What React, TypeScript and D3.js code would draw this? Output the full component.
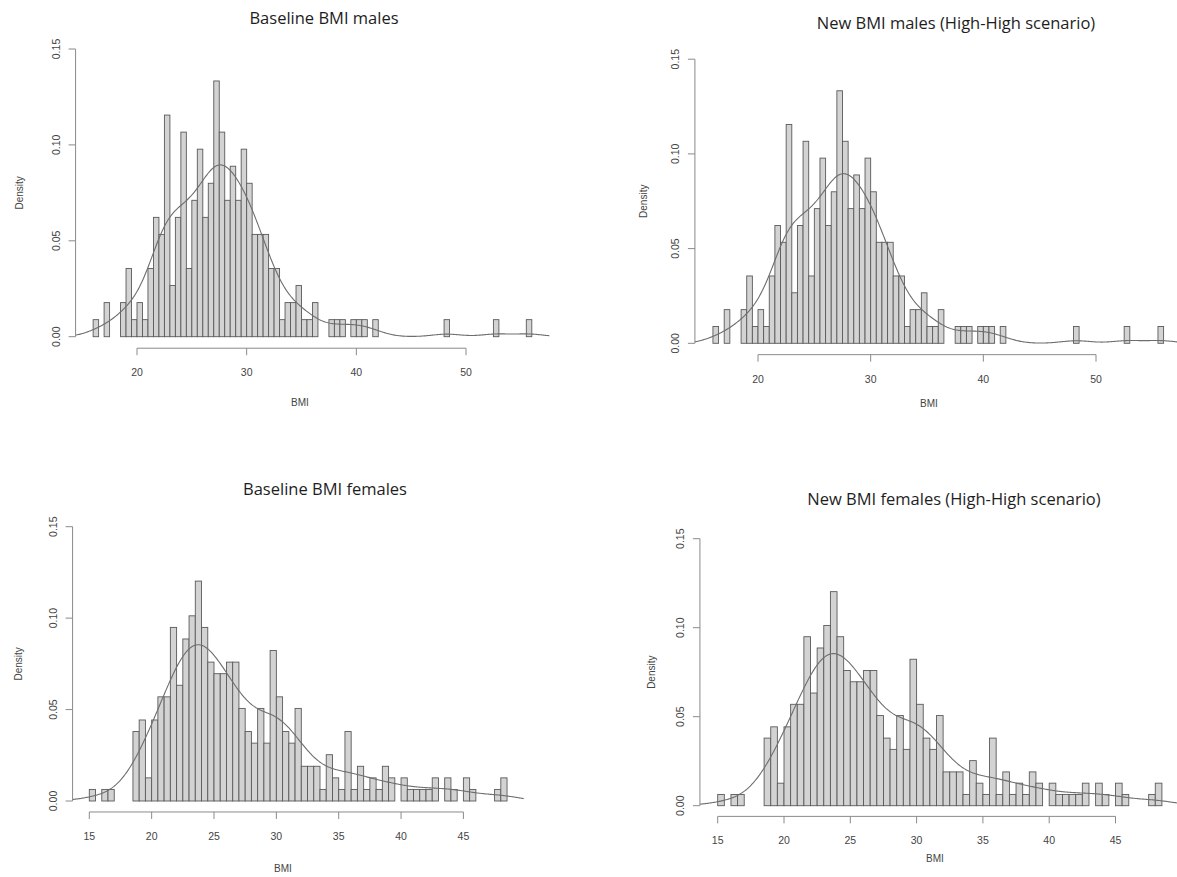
import React from 'react';
import * as d3 from 'd3';

// ---- Data (bin lower edges, bin width 0.5, and counts) ----
const BIN_WIDTH = 0.5;

const maleBinStarts = [16.0, 17.0, 18.5, 19.0, 19.5, 20.0, 20.5, 21.0, 21.5, 22.0, 22.5, 23.0, 23.5, 24.0, 24.5, 25.0, 25.5, 26.0, 26.5, 27.0, 27.5, 28.0, 28.5, 29.0, 29.5, 30.0, 30.5, 31.0, 31.5, 32.0, 32.5, 33.0, 33.5, 34.0, 34.5, 35.0, 35.5, 36.0, 37.5, 38.0, 38.5, 39.5, 40.0, 40.5, 41.5, 48.0, 52.5, 55.5];
const maleCounts = [1, 2, 2, 4, 1, 2, 1, 4, 7, 6, 13, 3, 7, 12, 4, 8, 11, 7, 9, 15, 12, 8, 10, 8, 11, 9, 6, 6, 6, 4, 4, 1, 2, 2, 3, 1, 1, 2, 1, 1, 1, 1, 1, 1, 1, 1, 1, 1];

const newMaleBinStarts = [16.0, 17.0, 18.5, 19.0, 19.5, 20.0, 20.5, 21.0, 21.5, 22.0, 22.5, 23.0, 23.5, 24.0, 24.5, 25.0, 25.5, 26.0, 26.5, 27.0, 27.5, 28.0, 28.5, 29.0, 29.5, 30.0, 30.5, 31.0, 31.5, 32.0, 32.5, 33.0, 33.5, 34.0, 34.5, 35.0, 35.5, 36.0, 37.5, 38.0, 38.5, 39.5, 40.0, 40.5, 41.5, 48.0, 52.5, 55.5];
const newMaleCounts = [1, 2, 2, 4, 1, 2, 1, 4, 7, 6, 13, 3, 7, 12, 4, 8, 11, 7, 9, 15, 12, 8, 10, 8, 11, 9, 6, 6, 6, 4, 4, 1, 2, 2, 3, 1, 1, 2, 1, 1, 1, 1, 1, 1, 1, 1, 1, 1];

const femaleBinStarts = [15.0, 16.0, 16.5, 18.5, 19.0, 19.5, 20.0, 20.5, 21.0, 21.5, 22.0, 22.5, 23.0, 23.5, 24.0, 24.5, 25.0, 25.5, 26.0, 26.5, 27.0, 27.5, 28.0, 28.5, 29.0, 29.5, 30.0, 30.5, 31.0, 31.5, 32.0, 32.5, 33.0, 33.5, 34.0, 34.5, 35.0, 35.5, 36.0, 36.5, 37.0, 37.5, 38.0, 38.5, 39.0, 40.0, 40.5, 41.0, 41.5, 42.0, 42.5, 43.5, 44.0, 45.0, 45.5, 47.5, 48.0];
const femaleCounts = [1, 1, 1, 6, 7, 2, 7, 9, 9, 15, 10, 14, 16, 19, 15, 12, 11, 11, 12, 12, 8, 6, 5, 8, 5, 13, 9, 6, 5, 8, 3, 3, 3, 1, 4, 2, 1, 6, 1, 3, 1, 2, 1, 3, 2, 2, 1, 1, 1, 1, 2, 2, 1, 2, 1, 1, 2];

const newFemaleBinStarts = [15.0, 16.0, 16.5, 18.5, 19.0, 19.5, 20.0, 20.5, 21.0, 21.5, 22.0, 22.5, 23.0, 23.5, 24.0, 24.5, 25.0, 25.5, 26.0, 26.5, 27.0, 27.5, 28.0, 28.5, 29.0, 29.5, 30.0, 30.5, 31.0, 31.5, 32.0, 32.5, 33.0, 33.5, 34.0, 34.5, 35.0, 35.5, 36.0, 36.5, 37.0, 37.5, 38.0, 38.5, 39.0, 40.0, 40.5, 41.0, 41.5, 42.0, 42.5, 43.5, 44.0, 45.0, 45.5, 47.5, 48.0];
const newFemaleCounts = [1, 1, 1, 6, 7, 2, 7, 9, 9, 15, 10, 14, 16, 19, 15, 12, 11, 11, 12, 12, 8, 6, 5, 8, 5, 13, 9, 6, 5, 8, 3, 3, 3, 1, 4, 2, 1, 6, 1, 3, 1, 2, 1, 3, 2, 2, 1, 1, 1, 1, 2, 2, 1, 2, 1, 1, 2];

const maleXTicks = [20, 30, 40, 50];
const femaleXTicks = [15, 20, 25, 30, 35, 40, 45];
const yTicks = [0, 0.05, 0.1, 0.15];
const yTickLabels = ['0.00', '0.05', '0.10', '0.15'];

const titles = [
  'Baseline BMI males',
  'New BMI males (High-High scenario)',
  'Baseline BMI females',
  'New BMI females (High-High scenario)',
];

// ---- Layout (pixel anchors per panel) ----
type PanelLayout = {
  xAnchorDomain: [number, number];
  xAnchorRange: [number, number];
  yAnchorRange: [number, number]; // pixel for 0 and 0.15
  title: [number, number];
  bmi: [number, number];
  densityX: number;
};

const layouts: PanelLayout[] = [
  { xAnchorDomain: [20, 50], xAnchorRange: [137, 466], yAnchorRange: [336.7, 49], title: [324, 17], bmi: [300, 402], densityX: 19 },
  { xAnchorDomain: [20, 50], xAnchorRange: [758, 1096], yAnchorRange: [343.3, 59.2], title: [956, 22], bmi: [929, 403], densityX: 643 },
  { xAnchorDomain: [15, 45], xAnchorRange: [89.3, 463.4], yAnchorRange: [801, 526.7], title: [325, 488], bmi: [283, 868], densityX: 18 },
  { xAnchorDomain: [15, 45], xAnchorRange: [717.7, 1115.5], yAnchorRange: [805.7, 538.7], title: [954, 498], bmi: [935, 858], densityX: 651 },
];

const TICK_FONT = '"Liberation Sans", Arial, Helvetica, sans-serif';
const TITLE_FONT = '"Open Sans", "Noto Sans", sans-serif';

function kde(starts: number[], counts: number[]) {
  const pts: number[] = [];
  starts.forEach((s, i) => {
    const c = counts[i];
    for (let k = 0; k < c; k++) pts.push(s + ((k + 0.5) * BIN_WIDTH) / c);
  });
  pts.sort(d3.ascending);
  const n = pts.length;
  const sd = d3.deviation(pts) as number;
  const iqr = (d3.quantile(pts, 0.75) as number) - (d3.quantile(pts, 0.25) as number);
  const bw = 0.9 * Math.min(sd, iqr / 1.34) * Math.pow(n, -0.2);
  const lo = pts[0] - 3 * bw;
  const hi = pts[n - 1] + 3 * bw;
  const xs = d3.range(512).map((i) => lo + ((hi - lo) * i) / 511);
  const norm = n * bw * Math.sqrt(2 * Math.PI);
  return xs.map((x) => [x, d3.sum(pts, (p) => Math.exp(-0.5 * ((x - p) / bw) ** 2)) / norm] as [number, number]);
}

function Panel({ idx, starts, counts, xTicks }: { idx: number; starts: number[]; counts: number[]; xTicks: number[] }) {
  const L = layouts[idx];
  const n = d3.sum(counts);
  const first = d3.min(starts) as number;
  const last = (d3.max(starts) as number) + BIN_WIDTH;
  const ext = (last - first) * 0.04;
  const x = d3.scaleLinear().domain(L.xAnchorDomain).range(L.xAnchorRange);
  const y = d3.scaleLinear().domain([0, 0.15]).range(L.yAnchorRange);
  const yExt = 0.15 * 0.04;
  const left = x(first - ext);
  const right = x(last + ext);
  const top = y(0.15 + yExt);
  const bottom = y(-yExt);

  const countMap = new Map(starts.map((s, i) => [s, counts[i]]));
  const nb = Math.round((last - first) / BIN_WIDTH);
  const bins = d3.range(nb).map((i) => {
    const s = first + i * BIN_WIDTH;
    const c = countMap.get(s) || 0;
    return { s, d: c / (n * BIN_WIDTH) };
  });

  const dens = kde(starts, counts);
  const line = d3.line<[number, number]>().x((d) => x(d[0])).y((d) => y(d[1]));
  const clipId = `clip-${idx}`;
  const tick = 7;

  return (
    <g>
      <defs>
        <clipPath id={clipId}>
          <rect x={left} y={top} width={right - left} height={bottom - top} />
        </clipPath>
      </defs>
      <text x={L.title[0]} y={L.title[1]} textAnchor="middle" dominantBaseline="central" fontFamily={TITLE_FONT} fontSize={16.5} fill="#1e1e1e">
        {titles[idx]}
      </text>
      <g clipPath={`url(#${clipId})`}>
        {bins.map((b) => (
          <rect
            key={b.s}
            x={x(b.s)}
            y={y(b.d)}
            width={x(b.s + BIN_WIDTH) - x(b.s)}
            height={y(0) - y(b.d)}
            fill="#d3d3d3"
            stroke="#5a5a5a"
            strokeWidth={0.9}
          />
        ))}
        <path d={line(dens) || ''} fill="none" stroke="#6e6e6e" strokeWidth={1.1} />
      </g>
      {/* y axis */}
      <line x1={left} x2={left} y1={y(0)} y2={y(0.15)} stroke="#8a8a8a" strokeWidth={1} />
      {yTicks.map((t, i) => (
        <g key={t}>
          <line x1={left - tick} x2={left} y1={y(t)} y2={y(t)} stroke="#8a8a8a" strokeWidth={1} />
          <text
            transform={`translate(${left - 20},${y(t)}) rotate(-90)`}
            textAnchor="middle"
            dominantBaseline="central"
            fontFamily={TICK_FONT}
            fontSize={10.5}
            fill="#444"
          >
            {yTickLabels[i]}
          </text>
        </g>
      ))}
      {/* x axis */}
      <line x1={x(xTicks[0])} x2={x(xTicks[xTicks.length - 1])} y1={bottom} y2={bottom} stroke="#8a8a8a" strokeWidth={1} />
      {xTicks.map((t) => (
        <g key={t}>
          <line x1={x(t)} x2={x(t)} y1={bottom} y2={bottom + tick} stroke="#8a8a8a" strokeWidth={1} />
          <text x={x(t)} y={bottom + 24} textAnchor="middle" dominantBaseline="central" fontFamily={TICK_FONT} fontSize={10.5} fill="#444">
            {t}
          </text>
        </g>
      ))}
      <text x={L.bmi[0]} y={L.bmi[1]} textAnchor="middle" dominantBaseline="central" fontFamily={TICK_FONT} fontSize={10} fill="#444">
        BMI
      </text>
      <text
        transform={`translate(${L.densityX},${(top + bottom) / 2}) rotate(-90)`}
        textAnchor="middle"
        dominantBaseline="central"
        fontFamily={TICK_FONT}
        fontSize={10}
        fill="#444"
      >
        Density
      </text>
    </g>
  );
}

export default function App() {
  return (
    <svg width={1177} height={877} style={{ position: 'absolute', left: 0, top: 0, background: '#fff' }}>
      <rect x={0} y={0} width={1177} height={877} fill="#fff" />
      <Panel idx={0} starts={maleBinStarts} counts={maleCounts} xTicks={maleXTicks} />
      <Panel idx={1} starts={newMaleBinStarts} counts={newMaleCounts} xTicks={maleXTicks} />
      <Panel idx={2} starts={femaleBinStarts} counts={femaleCounts} xTicks={femaleXTicks} />
      <Panel idx={3} starts={newFemaleBinStarts} counts={newFemaleCounts} xTicks={femaleXTicks} />
    </svg>
  );
}
